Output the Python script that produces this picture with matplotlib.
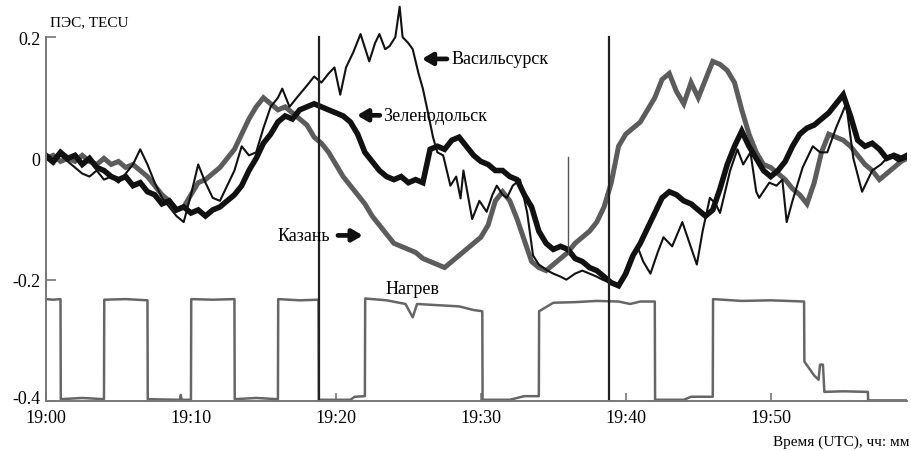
import matplotlib.pyplot as plt
from matplotlib.transforms import ScaledTranslation

plt.rcParams['font.family'] = ['Liberation Serif', 'DejaVu Serif']

# time axis in minutes after 19:00 UTC
tick_minutes = [0, 10, 20, 30, 40, 50]
tick_labels = ["19:00", "19:10", "19:20", "19:30", "19:40", "19:50"]
y_ticks = [-0.4, -0.2, 0.0, 0.2]
y_tick_labels = ["-0.4", "-0.2", "0", "0.2"]

# TEC variations, TECU
zel_t = [0, 0.5, 1, 1.5, 2, 2.5, 3, 3.5, 4, 4.5, 5, 5.5, 6, 6.5, 7, 7.5, 8, 8.5, 9, 9.5,
         10, 10.5, 11, 11.5, 12, 12.5, 13, 13.5, 14, 14.5, 15, 15.5, 16, 16.5, 17, 17.5, 18, 18.5, 19, 19.5,
         20, 20.5, 21, 21.5, 22, 22.5, 23, 23.5, 24, 24.5, 25, 25.5, 26, 26.5, 27, 27.5, 28, 28.5, 29, 29.5,
         30, 30.5, 31, 31.5, 32, 32.5, 33, 33.5, 34, 34.5, 35, 35.5, 36, 36.5, 37, 37.5, 38, 38.5, 39, 39.5,
         40, 40.5, 41, 41.5, 42, 42.5, 43, 43.5, 44, 44.5, 45, 45.5, 46, 46.5, 47, 47.5, 48, 48.5, 49, 49.5,
         50, 50.5, 51, 51.5, 52, 52.5, 53, 53.5, 54, 54.5, 55, 55.5, 56, 56.5, 57, 57.5, 58, 58.5, 59, 59.4]
zel_v = [0.005, -0.005, 0.01, 0.0, 0.005, -0.01, 0.0, -0.015, -0.02, -0.03, -0.035, -0.03, -0.045, -0.04, -0.055, -0.06, -0.075, -0.07, -0.085, -0.08,
         -0.09, -0.085, -0.095, -0.085, -0.08, -0.07, -0.06, -0.045, -0.02, 0.0, 0.025, 0.04, 0.06, 0.07, 0.065, 0.08, 0.085, 0.09, 0.085, 0.08,
         0.075, 0.07, 0.06, 0.04, 0.01, -0.005, -0.02, -0.03, -0.035, -0.03, -0.04, -0.035, -0.04, 0.015, 0.02, 0.015, 0.03, 0.035, 0.02, 0.005,
         -0.005, -0.01, -0.02, -0.02, -0.03, -0.035, -0.06, -0.08, -0.12, -0.14, -0.15, -0.145, -0.15, -0.165, -0.17, -0.18, -0.185, -0.195, -0.205, -0.21,
         -0.19, -0.16, -0.14, -0.115, -0.09, -0.065, -0.055, -0.06, -0.07, -0.075, -0.085, -0.095, -0.085, -0.05, -0.01, 0.02, 0.045, 0.02, 0.0, -0.02,
         -0.03, -0.02, -0.005, 0.02, 0.04, 0.05, 0.055, 0.065, 0.075, 0.09, 0.105, 0.07, 0.03, 0.02, 0.025, 0.015, 0.0, 0.005, 0.0, 0.005]

kaz_t = zel_t
kaz_v = [0.0, 0.005, -0.005, 0.0, -0.005, 0.005, -0.005, -0.01, 0.0, -0.01, -0.005, -0.015, -0.01, -0.02, -0.03, -0.045, -0.06, -0.07, -0.085, -0.08,
         -0.06, -0.04, -0.035, -0.025, -0.015, 0.0, 0.015, 0.04, 0.065, 0.085, 0.1, 0.09, 0.08, 0.085, 0.075, 0.065, 0.055, 0.035, 0.025, 0.01,
         -0.01, -0.03, -0.045, -0.06, -0.075, -0.095, -0.11, -0.125, -0.14, -0.145, -0.15, -0.155, -0.165, -0.17, -0.175, -0.18, -0.17, -0.16, -0.15, -0.14,
         -0.13, -0.11, -0.07, -0.055, -0.07, -0.1, -0.135, -0.17, -0.18, -0.185, -0.175, -0.165, -0.155, -0.14, -0.13, -0.12, -0.105, -0.08, -0.04, 0.02,
         0.04, 0.05, 0.06, 0.08, 0.1, 0.13, 0.14, 0.11, 0.09, 0.125, 0.1, 0.13, 0.16, 0.155, 0.145, 0.125, 0.08, 0.04, 0.01, -0.01,
         -0.015, -0.025, -0.035, -0.05, -0.06, -0.075, -0.04, 0.01, 0.04, 0.035, 0.03, 0.02, 0.005, -0.01, -0.02, -0.035, -0.025, -0.015, -0.005, 0.0]

vas_t = [0, 0.5, 1, 1.5, 2, 2.5, 3, 3.5, 4, 4.5, 5, 5.5, 6, 6.5, 7, 7.5, 8, 8.5, 9, 9.5,
         10, 10.5, 11, 11.5, 12, 12.5, 13, 13.5, 14, 14.5, 15, 15.5, 16, 16.3, 16.8, 17.3, 18, 18.5, 19, 19.5,
         19.9, 20.3, 20.7, 21.2, 21.7, 22.3, 22.7, 23, 23.4, 23.7, 24.1, 24.4, 24.6, 25, 25.3, 25.7, 26, 26.4, 26.7, 27,
         27.4, 27.9, 28.3, 28.6, 28.8, 29.4, 29.9, 30.4, 30.8, 31.1, 31.5, 31.8, 32.2, 32.7, 33.2, 33.6, 34, 34.6, 35, 35.5,
         35.9, 36.5, 37, 37.5, 38, 38.4, 38.9, 39.4, 39.8, 40.3, 40.8, 41.2, 41.7, 42.2, 42.6, 43.2, 43.9, 44.4, 44.9, 45.3,
         45.8, 46.2, 46.5, 47.2, 47.7, 48.1, 48.6, 49, 49.2, 49.9, 50.4, 50.8, 51.1, 51.5, 52.2, 52.9, 53.4, 53.9, 54.5, 55.2,
         55.7, 56.3, 57, 57.6, 58.2, 58.8, 59.4]
vas_v = [0.0, -0.01, 0.005, -0.005, -0.015, -0.025, -0.03, -0.02, -0.035, -0.03, -0.04, -0.025, -0.01, 0.015, -0.01, -0.04, -0.065, -0.08, -0.095, -0.105,
         -0.06, -0.01, -0.04, -0.065, -0.07, -0.045, -0.02, 0.02, 0.005, 0.01, 0.05, 0.085, 0.1, 0.115, 0.085, 0.1, 0.12, 0.135, 0.125, 0.14,
         0.15, 0.105, 0.15, 0.175, 0.205, 0.16, 0.19, 0.205, 0.18, 0.185, 0.2, 0.25, 0.2, 0.19, 0.18, 0.14, 0.115, 0.07, 0.035, 0.01,
         0.005, -0.045, -0.03, -0.066, -0.02, -0.1, -0.07, -0.088, -0.06, -0.045, -0.06, -0.065, -0.045, -0.035, -0.09, -0.16, -0.175, -0.185, -0.19, -0.195,
         -0.2, -0.19, -0.185, -0.19, -0.195, -0.2, -0.205, -0.21, -0.195, -0.165, -0.145, -0.17, -0.19, -0.155, -0.13, -0.145, -0.105, -0.14, -0.175, -0.12,
         -0.065, -0.075, -0.09, -0.02, 0.015, -0.01, 0.01, -0.055, -0.065, -0.04, -0.045, -0.035, -0.105, -0.07, -0.015, 0.02, 0.01, 0.01, 0.05, 0.09,
         0.0, -0.055, -0.02, -0.01, 0.005, -0.005, 0.0]

# heating cycle trace, drawn on the same scale
heat_t = [0, 0.5, 1.0, 1.02, 2.5, 4.0, 4.02, 5.5, 7.0, 7.02, 9.25, 9.3, 9.35, 10.0, 10.02, 11.5, 13.0, 13.02, 14.5, 16.0,
          16.02, 17.5, 18.8, 18.82, 21.0, 21.3, 22.0, 22.02, 23.5, 24.8, 25.3, 25.6, 27.0, 28.5, 29.5, 30.1, 30.12, 32.0, 33.0, 34.0,
          34.02, 35.0, 36.5, 38.0, 39.5, 40.3, 41.0, 42.0, 42.02, 44.0, 44.5, 46.0, 46.02, 48.0, 50.0, 52.3, 52.32, 53.0, 53.3,
          53.4, 53.6, 53.7, 55.0, 56.7, 56.72, 59.4]
heat_v = [-0.232, -0.233, -0.232, -0.397, -0.395, -0.397, -0.233, -0.232, -0.234, -0.397, -0.398, -0.39, -0.398, -0.398, -0.232, -0.233, -0.232, -0.397, -0.395, -0.397,
          -0.232, -0.234, -0.233, -0.398, -0.398, -0.393, -0.392, -0.231, -0.234, -0.24, -0.262, -0.24, -0.242, -0.244, -0.25, -0.252, -0.398, -0.398, -0.392, -0.392,
          -0.252, -0.238, -0.237, -0.235, -0.236, -0.24, -0.236, -0.236, -0.398, -0.398, -0.393, -0.393, -0.232, -0.235, -0.234, -0.236, -0.335, -0.358, -0.365,
          -0.34, -0.34, -0.385, -0.384, -0.385, -0.399, -0.399]

# event markers: (minute, bottom, top, line width)
event_lines = [(18.85, -0.4, 0.2, 1.6), (38.85, -0.4, 0.2, 1.6), (36.0, -0.157, 0.003, 1.0)]

fig = plt.figure(figsize=(9.12, 4.52), dpi=100)
ax = fig.add_axes([46 / 912, 50 / 452, 861 / 912, 400 / 452])

black = '#111111'
gray = '#5c5c5c'

ax.plot(heat_t, heat_v, color='#666666', lw=1.8)
ax.plot(kaz_t, kaz_v, color=gray, lw=3.6, solid_joinstyle='miter')
ax.plot(zel_t, zel_v, color=black, lw=4.0, solid_joinstyle='miter')
ax.plot(vas_t, vas_v, color=black, lw=1.5)

for x, y0, y1, w in event_lines:
    ax.plot([x, x], [y0, y1], color='#222222' if w > 1.2 else '#555555', lw=w)

arrow = dict(arrowstyle='-|>,head_width=0.35,head_length=0.6', lw=3.4, color=black, shrinkA=0, shrinkB=0)
ax.annotate('', xy=(25.93, 0.164), xytext=(27.66, 0.164), arrowprops=arrow)
ax.text(28.0, 0.164, "Васильсурск", fontsize=13, va='center', ha='left')
ax.annotate('', xy=(21.45, 0.071), xytext=(23.03, 0.071), arrowprops=arrow)
ax.text(23.24, 0.071, "Зеленодольск", fontsize=13, va='center', ha='left')
ax.annotate('', xy=(21.86, -0.127), xytext=(20.14, -0.127), arrowprops=arrow)
ax.text(19.6, -0.127, "Казань", fontsize=13, va='center', ha='right')
ax.text(25.3, -0.215, "Нагрев", fontsize=13, va='center', ha='center')

ax.set_xlim(0, 59.4)
ax.set_ylim(-0.4, 0.2595)
ax.set_xticks(tick_minutes)
ax.set_xticklabels(tick_labels, fontsize=13)
ax.set_yticks(y_ticks)
ax.set_yticklabels(y_tick_labels, fontsize=13)
ax.tick_params(axis='both', direction='in', color='#777777', width=1.2)
ax.tick_params(axis='y', length=7, pad=4)
ax.tick_params(axis='x', length=6, pad=6)

# lift the bottom y label a little so it clears the first time label
low_label = ax.get_yticklabels()[0]
low_label.set_transform(low_label.get_transform() + ScaledTranslation(0, 4 / 100, fig.dpi_scale_trans))

for side in ('top', 'right'):
    ax.spines[side].set_visible(False)
for side in ('left', 'bottom'):
    ax.spines[side].set_color('#777777')
    ax.spines[side].set_linewidth(1.4)
ax.spines['left'].set_bounds(-0.4, 0.2)

fig.text(50 / 912, 1 - 23 / 452, "ПЭС, TECU", fontsize=11, va='center', ha='left')
fig.text(910 / 912, 1 - 442 / 452, "Время (UTC), чч: мм", fontsize=11, va='center', ha='right')

fig.savefig('out.png', dpi=100)
